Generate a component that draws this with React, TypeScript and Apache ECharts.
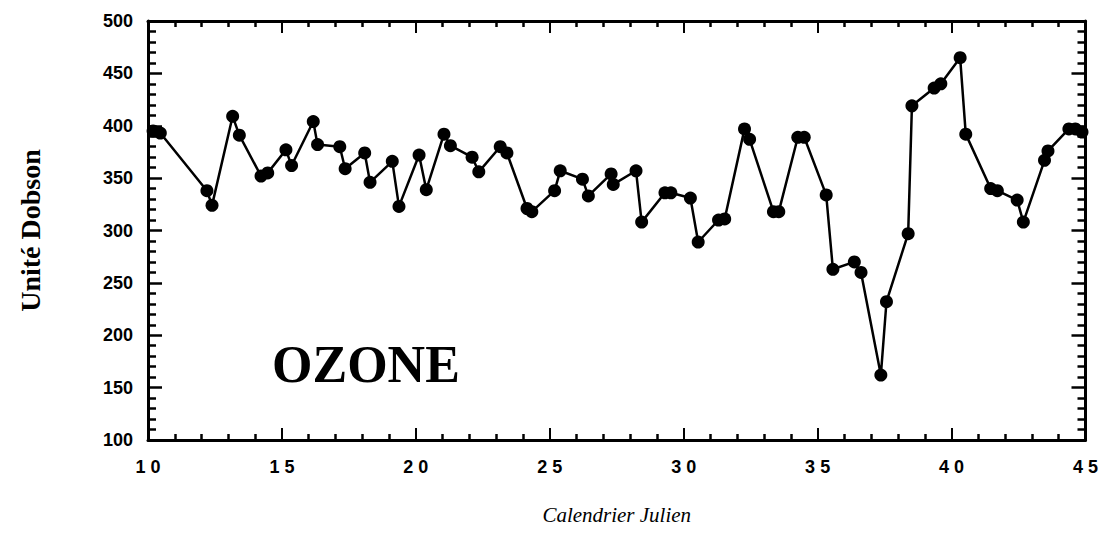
import React, { useEffect, useRef } from "react";
import * as echarts from "echarts";

const dayValues: number[] = [
  10.19, 10.46, 12.2, 12.39, 13.16, 13.41, 14.22, 14.47, 15.15, 15.36,
  16.17, 16.33, 17.16, 17.36, 18.09, 18.29, 19.12, 19.37, 20.12, 20.39,
  21.05, 21.29, 22.1, 22.35, 23.15, 23.4, 24.15, 24.33, 25.18, 25.39,
  26.22, 26.44, 27.29, 27.37, 28.22, 28.43, 29.3, 29.52, 30.25, 30.54,
  31.3, 31.53, 32.27, 32.46, 33.35, 33.55, 34.26, 34.5, 35.32, 35.57,
  36.37, 36.62, 37.36, 37.57, 38.38, 38.52, 39.35, 39.6, 40.32, 40.53,
  41.46, 41.71, 42.45, 42.68, 43.47, 43.6, 44.38, 44.62, 44.87,
];
const ozoneValues: number[] = [
  395, 393, 338, 324, 409, 391, 352, 355, 377, 362,
  404, 382, 380, 359, 374, 346, 366, 323, 372, 339,
  392, 381, 370, 356, 380, 374, 321, 318, 338, 357,
  349, 333, 354, 344, 357, 308, 336, 336, 331, 289,
  310, 311, 397, 387, 318, 318, 389, 389, 334, 263,
  270, 260, 162, 232, 297, 419, 436, 440, 465, 392,
  340, 338, 329, 308, 367, 376, 397, 397, 394,
];
const xTicks = { min: 10, max: 45, interval: 5 };
const yTicks = { min: 100, max: 500, interval: 50 };
const xTitle = "Calendrier Julien";
const yTitle = "Unité Dobson";
const seriesLabel = "OZONE";

export default function App() {
  const ref = useRef<HTMLDivElement>(null);
  useEffect(() => {
    if (!ref.current) return;
    const chart = echarts.init(ref.current, null, { renderer: "svg" });
    const tickLabel = {
      color: "#000",
      fontFamily: "Liberation Sans",
      fontWeight: "bold" as const,
      fontSize: 18,
    };
    const xBase = {
      type: "value" as const,
      min: xTicks.min,
      max: xTicks.max,
      interval: xTicks.interval,
      splitLine: { show: false },
      axisLine: { show: true, lineStyle: { color: "#000", width: 3 } },
      axisTick: { show: true, inside: true, length: 12, lineStyle: { color: "#000", width: 2 } },
      minorTick: { show: true, splitNumber: 5, length: 6, lineStyle: { color: "#000", width: 2.5 } },
    };
    const yBase = {
      type: "value" as const,
      min: yTicks.min,
      max: yTicks.max,
      interval: yTicks.interval,
      splitLine: { show: false },
      axisLine: { show: true, lineStyle: { color: "#000", width: 3 } },
      axisTick: { show: true, inside: true, length: 14, lineStyle: { color: "#000", width: 2.5 } },
      minorTick: { show: true, splitNumber: 5, length: 8, lineStyle: { color: "#000", width: 2.5 } },
    };
    chart.setOption({
      animation: false,
      backgroundColor: "#fff",
      grid: { left: 133, right: 15, top: 13, bottom: 80, show: false },
      xAxis: [
        {
          ...xBase,
          position: "bottom",
          name: xTitle,
          nameLocation: "middle",
          nameGap: 64,
          nameTextStyle: {
            color: "#000",
            fontFamily: "Liberation Serif",
            fontStyle: "italic",
            fontSize: 21,
          },
          axisLabel: {
            ...tickLabel,
            margin: 18,
            formatter: (v: number) => String(v).split("").join(" "),
          },
        },
        { ...xBase, position: "top", axisLabel: { show: false } },
      ],
      yAxis: [
        {
          ...yBase,
          position: "left",
          name: yTitle,
          nameLocation: "middle",
          nameGap: 104,
          nameTextStyle: {
            color: "#000",
            fontFamily: "Liberation Serif",
            fontWeight: "bold",
            fontSize: 28,
          },
          axisLabel: { ...tickLabel, margin: 15 },
        },
        { ...yBase, position: "right", axisLabel: { show: false } },
      ],
      graphic: [
        {
          type: "text",
          left: 264,
          top: 330,
          style: {
            text: seriesLabel,
            fill: "#000",
            font: "bold 52px 'Liberation Serif'",
          },
        },
      ],
      series: [
        {
          type: "line",
          name: seriesLabel,
          data: dayValues.map((d, i) => [d, ozoneValues[i]]),
          symbol: "circle",
          symbolSize: 13,
          itemStyle: { color: "#000" },
          lineStyle: { color: "#000", width: 2.5 },
        },
      ],
    });
    return () => chart.dispose();
  }, []);
  return <div ref={ref} style={{ width: 1093, height: 522 }} />;
}
